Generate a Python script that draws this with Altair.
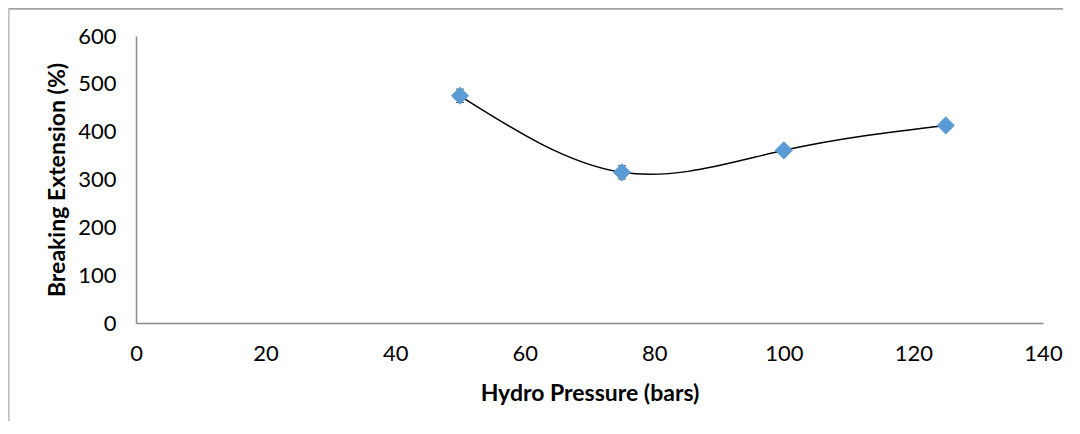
import altair as alt
import pandas as pd

pressure = [50, 75, 100, 125]
extension = [475, 315, 361, 413]
err = [14, 14, 0, 0]

df = pd.DataFrame({
    "x": pressure,
    "y": extension,
    "lo": [v - e for v, e in zip(extension, err)],
    "hi": [v + e for v, e in zip(extension, err)],
    "e": err,
})

FONT = "Lato"
AXIS_COLOR = "#898989"
XTITLE = "Hydro Pressure (bars)"
YTITLE = "Breaking Extension (%)"

xscale = alt.Scale(domain=[0, 140], nice=False, zero=True)
yscale = alt.Scale(domain=[0, 600], nice=False)

xaxis = alt.Axis(values=[0, 20, 40, 60, 80, 100, 120, 140],
                 grid=False, ticks=False, domainColor=AXIS_COLOR, domainWidth=1.5,
                 labelFont=FONT, labelFontSize=22, labelColor="#000000", labelPadding=20,
                 titleFont=FONT, titleFontSize=23, titleFontWeight="bold", titleColor="#000000",
                 titlePadding=18, labelFlush=False)
yaxis = alt.Axis(values=[0, 100, 200, 300, 400, 500, 600],
                 grid=False, ticks=False, domainColor=AXIS_COLOR, domainWidth=1.5,
                 labelFont=FONT, labelFontSize=22, labelColor="#000000", labelPadding=20,
                 titleFont=FONT, titleFontSize=23, titleFontWeight="bold", titleColor="#000000",
                 titlePadding=8, labelFlush=False)

line = alt.Chart(df).mark_line(interpolate="natural", color="#000000", strokeWidth=1.5).encode(
    x=alt.X("x:Q", scale=xscale, axis=xaxis, title=XTITLE),
    y=alt.Y("y:Q", scale=yscale, axis=yaxis, title=YTITLE))

ebars = alt.Chart(df[df["e"] > 0]).mark_errorbar(ticks=alt.MarkConfig(size=8, color="#000000"), color="#000000", thickness=1).encode(
    x=alt.X("x:Q", scale=xscale, axis=xaxis, title=XTITLE),
    y=alt.Y("lo:Q", scale=yscale, axis=yaxis, title=YTITLE),
    y2="hi:Q")

pts = alt.Chart(df).mark_point(shape="diamond", filled=True, size=330, color="#5B9BD5", opacity=1).encode(
    x=alt.X("x:Q", scale=xscale, axis=xaxis, title=XTITLE),
    y=alt.Y("y:Q", scale=yscale, axis=yaxis, title=YTITLE))

border_top = alt.Chart(df).mark_rule(color="#a0a0a0", strokeWidth=1.5).encode(
    x=alt.value(-128), x2=alt.value(930), y=alt.value(-27.5))
border_left = alt.Chart(df).mark_rule(color="#c0c0c0", strokeWidth=1.5).encode(
    x=alt.value(-127.5), y=alt.value(-28), y2=alt.value(420))

chart = alt.layer(border_top, border_left, line, ebars, pts).properties(
    width=907, height=287,
    autosize=alt.AutoSizeParams(type="none"),
    padding={"left": 128, "top": 28, "right": 20, "bottom": 98},
).configure_view(stroke=None)

chart.save("out.html", embed_options={"renderer": "svg", "actions": False})
